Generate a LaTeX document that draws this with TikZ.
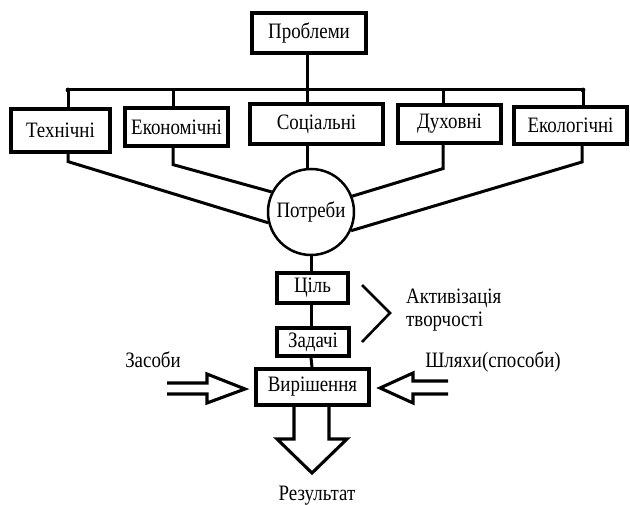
\documentclass[tikz,border=0pt]{standalone}
\usepackage{fontspec}
\setmainfont{Liberation Serif}
\newfontfamily\narrowserif[FakeStretch=0.86]{Liberation Serif}
\begin{document}
\begin{tikzpicture}[x=1pt,y=-1pt,
  every node/.style={font=\narrowserif\fontsize{22}{25}\selectfont},
  box/.style={draw, line width=3.2pt, inner sep=0pt, align=center},
  conn/.style={line width=3pt},
  blockarrow/.style={line width=3.1pt, line join=miter},
  label/.style={inner sep=0pt}]
\useasboundingbox (0,0) rectangle (630,505);

% top problem box and category boxes
\node[box, minimum width=114pt, minimum height=40pt] (prob) at (309,33) {Проблеми};
\node[box, minimum width=99pt,  minimum height=43pt] (tech) at (60.5,130.5) {Технічні};
\node[box, minimum width=103pt, minimum height=38pt] (econ) at (176.5,127) {Економічні};
\node[box, minimum width=133pt, minimum height=40pt] (soc)  at (316.5,124) {Соціальні};
\node[box, minimum width=103pt, minimum height=38pt] (duh)  at (449.5,124) {Духовні};
\node[box, minimum width=113pt, minimum height=37pt] (eco)  at (570.5,125.5) {Екологічні};

% needs circle
\node[draw, circle, line width=2.5pt, minimum size=86pt, inner sep=0pt] (pot) at (311,212) {Потреби};

% goal chain
\node[box, minimum width=71pt,  minimum height=30pt] (goal) at (312.5,288) {Ціль};
\node[box, minimum width=72pt,  minimum height=28pt] (task) at (313,342) {Задачі};
\node[box, minimum width=113pt, minimum height=36pt] (sol)  at (312.5,387) {Вирішення};

% bus from the problem box
\coordinate (b1) at (68,90);
\coordinate (b2) at (173,90);
\coordinate (b3) at (307,90);
\coordinate (b4) at (443,90);
\coordinate (b5) at (583,90);
\draw[conn] (prob.south -| b3) -- (b3);
\draw[conn] (b1) -- (b5);
\fill (b1) circle (2.4pt);
\fill (b5) circle (2.4pt);
\draw[conn] (b1) -- (b1 |- tech.north);
\draw[conn] (b2) -- (b2 |- econ.north);
\draw[conn] (b3) -- (b3 |- soc.north);
\draw[conn] (b4) -- (b4 |- duh.north);
\draw[conn] (b5) -- (b5 |- eco.north);

% category boxes into the needs circle
\draw[conn, line join=miter] (b1 |- tech.south) -- ++(0,8) -- (pot.194);
\draw[conn, line join=miter] (b2 |- econ.south) -- ++(0,17) -- (pot.153);
\draw[conn] (b3 |- soc.south) -- (pot.north -| b3);
\draw[conn, line join=miter] (b4 |- duh.south) -- ++(0,24) -- (pot.21);
\draw[conn, line join=miter] (582,144) coordinate (e0) -- ++(0,18) -- (pot.-25);

% vertical chain
\draw[conn] (pot.south) -- (pot.south |- goal.north);
\draw[conn] (goal.south -| 311,0) -- (task.north -| 311,0);
\draw[conn] (task.south -| 311,0) -- (sol.north -| 312,0);

% bracket and its text
\coordinate (br1) at (362,285);
\coordinate (br2) at (390,313);
\coordinate (br3) at (362,342);
\draw[line width=2.6pt, line join=miter] (br1) -- (br2) -- (br3);
\node[label, anchor=west, align=left] (act) at (406,310.5) {Активізація\\[-2pt]творчості};

% block arrows
\draw[blockarrow] (167,383) -- (207,383) -- (207,374) -- (245,389) -- (207,403) -- (207,394) -- (167,394);
\draw[blockarrow] (448,381) -- (413,381) -- (413,373) -- (380,388) -- (413,403) -- (413,394) -- (448,394);
\draw[blockarrow] (294,405) -- (294,439) -- (277,439) -- (312,473) -- (347,439) -- (329,439) -- (329,405);

% side and bottom labels
\node[label] (means) at (153,360) {Засоби};
\node[label] (ways)  at (493,362) {Шляхи(способи)};
\node[label] (res)   at (317,496) {Результат};
\end{tikzpicture}
\end{document}
